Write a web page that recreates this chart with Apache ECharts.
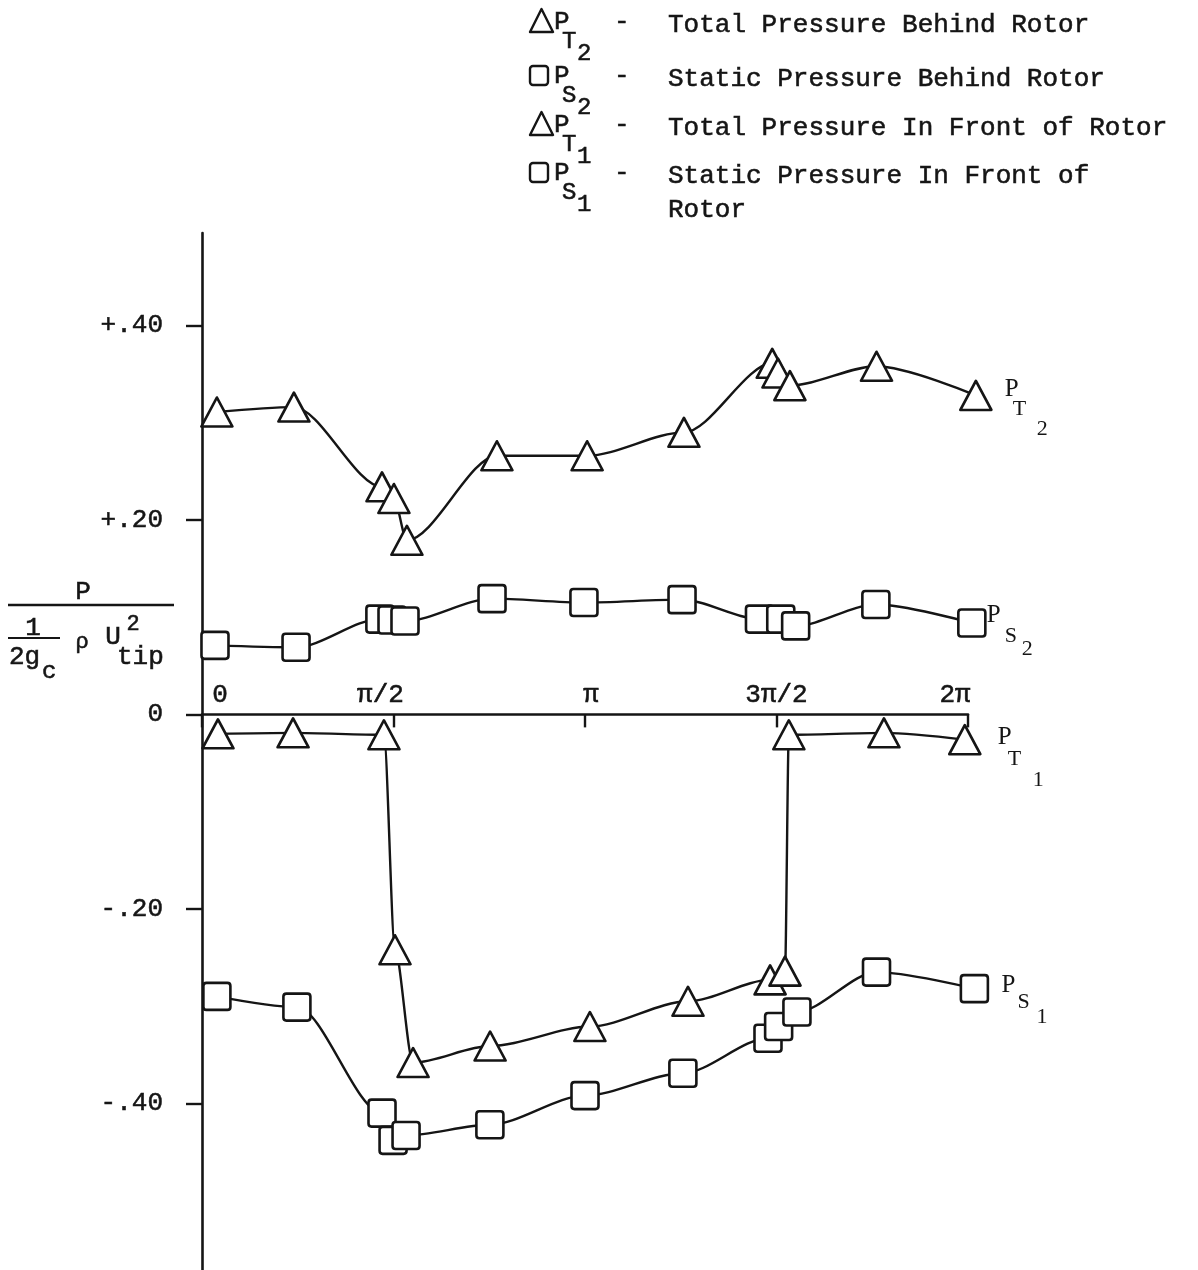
<!DOCTYPE html>
<html>
<head>
<meta charset="utf-8">
<script src="https://cdn.jsdelivr.net/npm/echarts@6/dist/echarts.min.js"></script>
<style>
  html, body { margin: 0; padding: 0; background: #fff; }
  #chart { width: 1198px; height: 1270px; }
</style>
</head>
<body>
<div id="chart"></div>
<script>
// Angular position around the rotor in degrees (axis labelled 0 .. 2π)
const totalBehindAngle  = [7.0, 43.2, 84.6, 90.2, 96.3, 138.6, 181, 226.5, 268, 270.7, 276.3, 317, 363.7];
const totalBehindValue  = [0.311, 0.316, 0.234, 0.222, 0.179, 0.266, 0.266, 0.290, 0.361, 0.351, 0.338, 0.358, 0.328];

const staticBehindAngle = [6.1, 44.2, 83.6, 89.3, 95.4, 136.3, 179.5, 225.6, 262, 272, 279, 316.7, 361.8];
const staticBehindValue = [0.071, 0.069, 0.098, 0.097, 0.096, 0.119, 0.115, 0.118, 0.098, 0.098, 0.091, 0.113, 0.094];

const totalFrontAngle   = [7.5, 42.8, 85.5, 90.7, 99.2, 135.4, 182.3, 228.4, 267, 274, 275.8, 320.5, 358.5];
const totalFrontValue   = [-0.020, -0.019, -0.021, -0.242, -0.358, -0.341, -0.321, -0.295, -0.273, -0.264, -0.021, -0.019, -0.026];

const staticFrontAngle  = [7, 44.6, 84.6, 89.8, 95.9, 135.3, 180, 226, 266, 271, 279.6, 317, 363];
const staticFrontValue  = [-0.290, -0.301, -0.410, -0.438, -0.433, -0.422, -0.392, -0.369, -0.333, -0.321, -0.306, -0.265, -0.282];

const angleTicks         = [0, 90, 180, 270, 360];
const angleTickLabels    = ['0', 'π/2', 'π', '3π/2', '2π'];
const pressureTicks      = [-0.4, -0.2, 0, 0.2, 0.4];
const pressureTickLabels = ['-.40', '-.20', '0', '+.20', '+.40'];

const legendEntries = [
  { marker: 'triangle', sub: 'T', num: '2', text: 'Total Pressure Behind Rotor' },
  { marker: 'square',   sub: 'S', num: '2', text: 'Static Pressure Behind Rotor' },
  { marker: 'triangle', sub: 'T', num: '1', text: 'Total Pressure In Front of Rotor' },
  { marker: 'square',   sub: 'S', num: '1', text: 'Static Pressure In Front of\nRotor' }
];

// ---- styling / layout ----
const INK = '#151515';
const MONO = '"Liberation Mono", "DejaVu Sans Mono", monospace';
const SERIF = '"Liberation Serif", "DejaVu Serif", serif';
const TEXT_WEIGHT = 0.55;                 // slight stroke gives the typewriter look
const PLOT_LEFT = 202, PLOT_TOP = 233;
const Y_MIN = -0.6, Y_MAX = 0.495;
const PX_PER_UNIT = 972.5;
const PLOT_H = (Y_MAX - Y_MIN) * PX_PER_UNIT;
const ZERO_FROM_BOTTOM = (0 - Y_MIN) * PX_PER_UNIT;
const AXIS_W = 766;                       // 0 .. 2π
const DATA_X_MAX = 370;                   // data grid runs a little past 2π
const DATA_W = AXIS_W * DATA_X_MAX / 360;

const squarePath = 'path://M3,0H24Q27,0 27,3V24Q27,27 24,27H3Q0,27 0,24V3Q0,0 3,0Z';

function pairs(xs, ys) { return xs.map((x, i) => [x, ys[i]]); }
function idxOf(list, v) { return list.findIndex(t => Math.abs(t - v) < 1e-9); }

function endLabel(distance, rich) {
  return {
    show: true,
    distance: distance,
    color: INK,
    fontFamily: SERIF,
    formatter: rich.text,
    rich: rich.styles
  };
}

function makeSeries(name, xs, ys, symbol, size, label) {
  return {
    name: name,
    type: 'line',
    xAxisIndex: 1,
    yAxisIndex: 1,
    data: pairs(xs, ys),
    smooth: 0.3,
    smoothMonotone: 'x',
    clip: false,
    showAllSymbol: true,
    symbol: symbol,
    symbolSize: size,
    symbolKeepAspect: false,
    itemStyle: { color: '#fff', borderColor: INK, borderWidth: 2.6, borderJoin: 'round' },
    lineStyle: { color: INK, width: 2.4 },
    emphasis: { disabled: true },
    endLabel: label
  };
}

const serifTok = (size, width, padding) => ({ fontSize: size, fontFamily: SERIF, color: INK, width: width, padding: padding });

const series = [
  makeSeries('P_T2', totalBehindAngle, totalBehindValue, 'triangle', [31, 29],
    endLabel(29, {
      text: '{p|P}{s|T}{n|2}',
      styles: { p: serifTok(25, 8, [0, 0, 12, 0]), s: serifTok(22, 24, [28, 0, 0, 0]), n: serifTok(22, null, [68, 0, 0, 0]) }
    })),
  makeSeries('P_S2', staticBehindAngle, staticBehindValue, squarePath, [27, 27],
    endLabel(15, {
      text: '{p|P}{s|S}{n|2}',
      styles: { p: serifTok(25, 18, [0, 0, 16, 0]), s: serifTok(22, 17, [26, 0, 0, 0]), n: serifTok(22, null, [52, 0, 0, 0]) }
    })),
  makeSeries('P_T1', totalFrontAngle, totalFrontValue, 'triangle', [31, 29],
    endLabel(33, {
      text: '{p|P}{s|T}{n|1}',
      styles: { p: serifTok(25, 10, [0, 0, 4, 0]), s: serifTok(22, 25, [40, 0, 0, 0]), n: serifTok(22, null, [82, 0, 0, 0]) }
    })),
  makeSeries('P_S1', staticFrontAngle, staticFrontValue, squarePath, [27, 27],
    endLabel(27, {
      text: '{p|P}{s|S}{n|1}',
      styles: { p: serifTok(25, 16, [0, 0, 6, 0]), s: serifTok(22, 19, [28, 0, 0, 0]), n: serifTok(22, null, [58, 0, 0, 0]) }
    }))
];

// ---- legend block (top right) ----
const monoStyle = (s, size, extra) => Object.assign({
  text: s, fontSize: size, fontFamily: MONO, fill: INK,
  stroke: INK, lineWidth: TEXT_WEIGHT, verticalAlign: 'middle'
}, extra || {});

const legendRowY = [21, 75, 124, 172];
const legendGraphics = [];
legendEntries.forEach((e, i) => {
  const cy = legendRowY[i];
  if (e.marker === 'triangle') {
    legendGraphics.push({
      type: 'polygon',
      shape: { points: [[541.5, cy - 12], [553, cy + 11], [530, cy + 11]] },
      style: { fill: '#fff', stroke: INK, lineWidth: 2.4, lineJoin: 'round' }
    });
  } else {
    legendGraphics.push({
      type: 'rect',
      shape: { x: 530, y: cy - 9, width: 18, height: 19, r: 3 },
      style: { fill: '#fff', stroke: INK, lineWidth: 2.4 }
    });
  }
  legendGraphics.push(
    { type: 'text', x: 554, y: cy + 1, style: monoStyle('P', 26) },
    { type: 'text', x: 562, y: cy + 21, style: monoStyle(e.sub, 24) },
    { type: 'text', x: 577, y: cy + 33, style: monoStyle(e.num, 24) },
    { type: 'text', x: 614, y: cy + 1, style: monoStyle('-', 26) },
    { type: 'text', x: 668, y: cy - 13, style: monoStyle(e.text, 26, { lineHeight: 34, verticalAlign: 'top' }) }
  );
});

// ---- y-axis quantity:  P / ( (1/2g_c) ρ U_tip^2 ) ----
const txt = (x, y, s, size, align) => ({
  type: 'text', x: x, y: y, style: monoStyle(s, size, { align: align || 'left' })
});
const axisTitle = [
  txt(83, 592, 'P', 26, 'center'),
  { type: 'line', shape: { x1: 8, y1: 605, x2: 174, y2: 605 }, style: { stroke: INK, lineWidth: 2.4 } },
  txt(33, 628, '1', 26, 'center'),
  { type: 'line', shape: { x1: 8, y1: 638, x2: 60, y2: 638 }, style: { stroke: INK, lineWidth: 2.2 } },
  txt(9, 657, '2g', 26),
  txt(42, 672, 'c', 24),
  txt(82, 642, 'ρ', 22, 'center'),
  txt(113, 637, 'U', 26, 'center'),
  txt(133, 624, '2', 22, 'center'),
  txt(117, 657, 'tip', 26)
];

const xLabelRich = {
  l0: { padding: [0, 0, 0, 36] },
  l1: { padding: [0, 26, 0, 0] },
  l2: { padding: [0, 0, 0, 12] },
  l3: {},
  l4: { padding: [0, 26, 0, 0] }
};

const axisText = { fontSize: 26, fontFamily: MONO, color: INK, textBorderColor: INK, textBorderWidth: TEXT_WEIGHT };

const chart = echarts.init(document.getElementById('chart'), null, { renderer: 'canvas' });
chart.setOption({
  backgroundColor: '#fff',
  animation: false,
  grid: [
    { left: PLOT_LEFT, top: PLOT_TOP, width: AXIS_W, height: PLOT_H, containLabel: false, outerBoundsMode: 'none' },
    { left: PLOT_LEFT, top: PLOT_TOP, width: DATA_W, height: PLOT_H, containLabel: false, outerBoundsMode: 'none' }
  ],
  xAxis: [
    {
      gridIndex: 0, type: 'value', min: 0, max: 360, interval: 90,
      position: 'bottom',
      offset: -ZERO_FROM_BOTTOM,            // the angle axis sits on the zero-pressure line
      axisLine: { show: true, onZero: false, lineStyle: { color: INK, width: 2.6 } },
      axisTick: { show: true, inside: false, length: 13, customValues: angleTicks, lineStyle: { color: INK, width: 2.4 } },
      axisLabel: Object.assign({
        show: true, inside: true, margin: 6, customValues: angleTicks,
        formatter: v => { const i = idxOf(angleTicks, v); return i < 0 ? '' : '{l' + i + '|' + angleTickLabels[i] + '}'; },
        rich: xLabelRich
      }, axisText),
      splitLine: { show: false }
    },
    { gridIndex: 1, type: 'value', min: 0, max: DATA_X_MAX, show: false, splitLine: { show: false } }
  ],
  yAxis: [
    {
      gridIndex: 0, type: 'value', min: Y_MIN, max: Y_MAX, interval: 0.2,
      axisLine: { show: true, onZero: false, lineStyle: { color: INK, width: 2.6 } },
      axisTick: { show: true, inside: false, length: 16, customValues: pressureTicks, lineStyle: { color: INK, width: 2.4 } },
      axisLabel: Object.assign({
        show: true, margin: 39, customValues: pressureTicks,
        formatter: v => { const i = idxOf(pressureTicks, v); return i < 0 ? '' : pressureTickLabels[i]; }
      }, axisText),
      splitLine: { show: false }
    },
    { gridIndex: 1, type: 'value', min: Y_MIN, max: Y_MAX, show: false, splitLine: { show: false } }
  ],
  series: series,
  graphic: legendGraphics.concat(axisTitle)
});
</script>
</body>
</html>
